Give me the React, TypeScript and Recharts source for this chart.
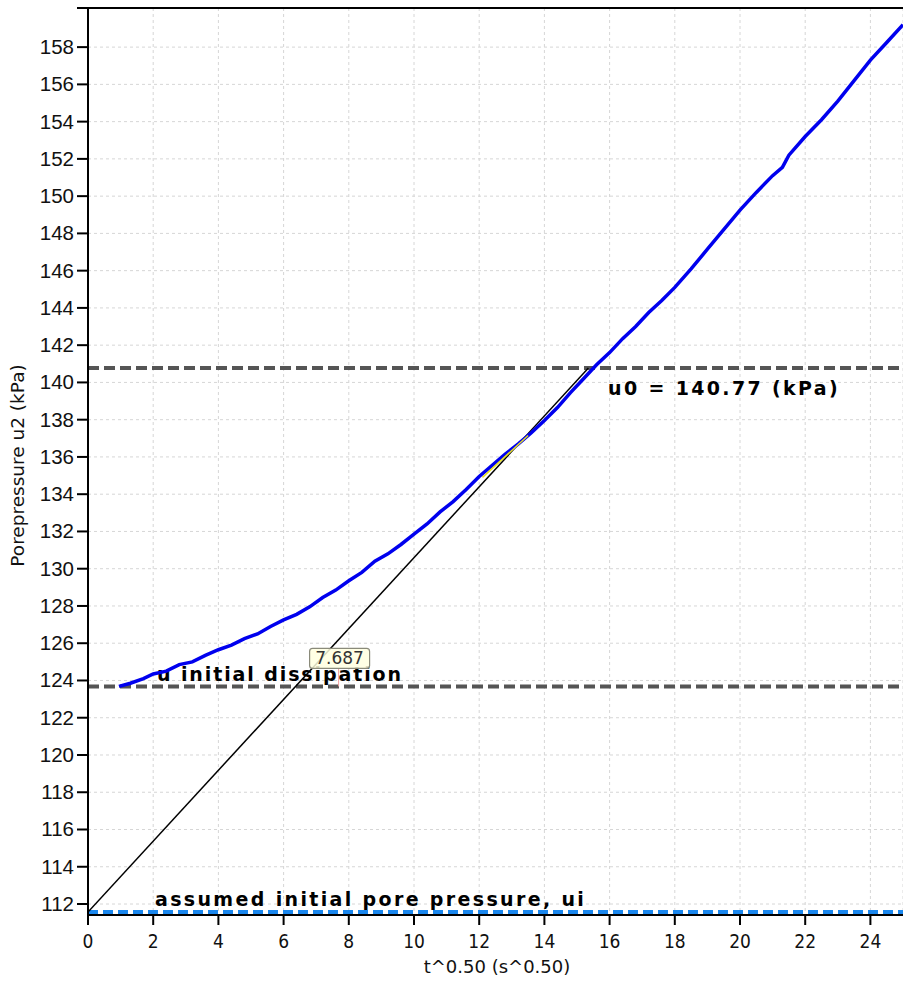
import React from 'react';
import { LineChart, Line, XAxis, YAxis, CartesianGrid, ReferenceLine, ReferenceDot } from 'recharts';

// ---- data ----
const timeRoot = [
  0.95, 1.3, 1.7, 2.0, 2.4, 2.8, 3.2, 3.6, 4.0, 4.4, 4.8, 5.2, 5.6, 6.0, 6.4, 6.8, 7.2, 7.6, 8.0,
  8.4, 8.8, 9.2, 9.6, 10.0, 10.4, 10.8, 11.2, 11.6, 12.0, 12.4, 12.8, 13.2, 13.6, 14.0, 14.4, 14.8,
  15.2, 15.6, 16.0, 16.4, 16.8, 17.2, 17.6, 18.0, 18.5, 19.0, 19.5, 20.0, 20.5, 21.0, 21.3, 21.5,
  22.0, 22.5, 23.0, 23.5, 24.0, 24.5, 25.0,
];
const porePressure = [
  123.68, 123.85, 124.1, 124.35, 124.5, 124.85, 125.0, 125.35, 125.65, 125.9, 126.25, 126.5, 126.9,
  127.25, 127.55, 127.95, 128.45, 128.85, 129.35, 129.8, 130.4, 130.8, 131.3, 131.85, 132.4, 133.05,
  133.6, 134.25, 134.95, 135.55, 136.15, 136.7, 137.3, 137.95, 138.65, 139.45, 140.2, 140.95, 141.6,
  142.35, 143.0, 143.75, 144.4, 145.1, 146.1, 147.15, 148.2, 149.25, 150.2, 151.1, 151.55, 152.2,
  153.2, 154.1, 155.1, 156.2, 157.3, 158.25, 159.2,
];
const tangentT = [0, 15.35];
const tangentU = [111.57, 140.77];
const fitT = [12.1, 13.5];
const fitU = [134.9, 137.15];

const xTicks = [0, 2, 4, 6, 8, 10, 12, 14, 16, 18, 20, 22, 24];
const yTicks = [112, 114, 116, 118, 120, 122, 124, 126, 128, 130, 132, 134, 136, 138, 140, 142, 144, 146, 148, 150, 152, 154, 156, 158];
const xDomain = [0, 25];
const yDomain = [111.41, 160.1];

const u0 = 140.77;
const uInitialDissipation = 123.68;
const uiAssumed = 111.57;
const markerT = 7.687;

const u0Label = 'u0 = 140.77 (kPa)';
const dissipationLabel = 'u initial dissipation';
const uiLabel = 'assumed initial pore pressure, ui';
const xTitle = 't^0.50 (s^0.50)';
const yTitle = 'Porepressure u2 (kPa)';

const curveData = timeRoot.map((t, i) => ({ t, u: porePressure[i] }));
const tangentData = tangentT.map((t, i) => ({ t, u: tangentU[i] }));
const fitData = fitT.map((t, i) => ({ t, u: fitU[i] }));

const boldFont = '"DejaVu Sans", Verdana, sans-serif';
const plainFont = '"DejaVu Sans", Verdana, sans-serif';

const XTick = (props: any) => {
  const { x, y, payload } = props;
  return (
    <text x={x} y={y} dy={21} textAnchor="middle" fontFamily='"DejaVu Sans Condensed", "DejaVu Sans", sans-serif' fontSize={19} fill="#111">
      {payload.value}
    </text>
  );
};

const YTick = (props: any) => {
  const { x, y, payload } = props;
  if (payload.value > 159) return null;
  return (
    <text x={x} y={y} dy={7} textAnchor="end" fontFamily='"Liberation Sans", Arial, sans-serif' fontSize={20.5} fill="#111">
      {payload.value}
    </text>
  );
};

const makeLineLabel = (text: string, dx: number, dy: number, spacing: number) => (props: any) => {
  const vb = props.viewBox || {};
  return (
    <text x={(vb.x || 0) + dx} y={(vb.y || 0) + dy} fontFamily={boldFont} fontWeight="bold" fontSize={19} letterSpacing={spacing} fill="#000">
      {text}
    </text>
  );
};

const MarkerShape = (props: any) => {
  const { cx, cy } = props;
  if (cx == null || cy == null) return null;
  return (
    <g>
      <line x1={cx} y1={cy - 18} x2={cx} y2={cy} stroke="#f2a0a0" strokeWidth={1} />
      <rect x={cx - 29} y={cy - 38} width={60} height={20} rx={3} ry={3} fill="#ffffe0" fillOpacity={0.85} stroke="#8a8a7a" strokeWidth={1.2} />
      <text x={cx + 1} y={cy - 22} textAnchor="middle" fontFamily={plainFont} fontSize={17} fill="#333">
        {markerT}
      </text>
    </g>
  );
};

export default function App() {
  return (
    <div style={{ position: 'absolute', left: 0, top: 0, width: 903, height: 983, background: '#fff' }}>
      <LineChart width={903} height={983} margin={{ top: 8, right: 0, bottom: 0, left: 0 }}>
        <CartesianGrid stroke="#d6d6d6" strokeDasharray="3 3" strokeWidth={1} />
        <XAxis
          type="number"
          dataKey="t"
          domain={xDomain}
          ticks={xTicks}
          allowDataOverflow
          height={68}
          tickSize={10}
          tickMargin={2}
          stroke="#000"
          strokeWidth={2}
          tickLine={{ stroke: '#000', strokeWidth: 2 }}
          tick={<XTick />}
          label={(p: any) => {
            const vb = p.viewBox || {};
            return (
              <text x={(vb.x || 0) + (vb.width || 0) / 2 + 1.5} y={973} textAnchor="middle" fontFamily={plainFont} fontSize={18} fill="#111">
                {xTitle}
              </text>
            );
          }}
        />
        <YAxis
          type="number"
          dataKey="u"
          domain={yDomain}
          ticks={[...yTicks, yDomain[1]]}
          allowDataOverflow
          width={88}
          tickSize={11}
          tickMargin={3}
          stroke="#000"
          strokeWidth={2}
          tickLine={{ stroke: '#000', strokeWidth: 2 }}
          tick={<YTick />}
          label={(p: any) => {
            const vb = p.viewBox || {};
            const cy = (vb.y || 0) + (vb.height || 0) / 2 + 4;
            return (
              <text x={24} y={cy} transform={`rotate(-90 24 ${cy})`} textAnchor="middle" fontFamily={plainFont} fontSize={18.5} fill="#111">
                {yTitle}
              </text>
            );
          }}
        />
        <ReferenceLine y={yDomain[1]} stroke="#000" strokeWidth={2} ifOverflow="extendDomain" />
        <ReferenceLine y={u0} stroke="#555" strokeWidth={4} strokeDasharray="11 5" label={makeLineLabel(u0Label, 520, 27, 2.35)} />
        <ReferenceLine y={uInitialDissipation} stroke="#555" strokeWidth={4} strokeDasharray="11 5" label={makeLineLabel(dissipationLabel, 69, -5, 1.9)} />
        <ReferenceLine y={uiAssumed} stroke="#1a87ee" strokeWidth={4} strokeDasharray="10 5" label={makeLineLabel(uiLabel, 67, -6.5, 2.35)} />
        <Line data={tangentData} dataKey="u" type="linear" stroke="#000" strokeWidth={1.5} dot={false} isAnimationActive={false} />
        <Line data={curveData} dataKey="u" type="linear" stroke="#0000ee" strokeWidth={3.5} dot={false} isAnimationActive={false} />
        <Line data={fitData} dataKey="u" type="linear" stroke="#e8e020" strokeWidth={1.5} dot={false} isAnimationActive={false} />
        <ReferenceDot x={markerT} y={uInitialDissipation} r={0} shape={<MarkerShape />} />
      </LineChart>
    </div>
  );
}
